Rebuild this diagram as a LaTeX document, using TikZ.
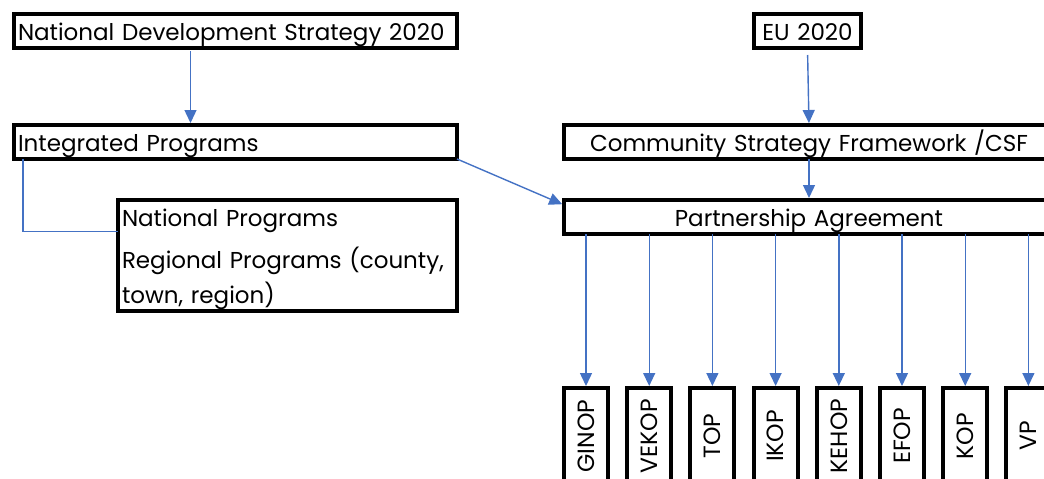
\documentclass[tikz,border=0pt]{standalone}
\usepackage{fontspec}
\setmainfont{Poppins}
\usepackage{tikz}
\usetikzlibrary{arrows.meta}
\definecolor{linkblue}{HTML}{4472C4}
\tikzstyle{box}=[draw,line width=4pt,outer sep=0pt,inner ysep=0pt,inner xsep=4pt,text height=26pt,text depth=8pt,anchor=north west,font=\fontsize{23}{35}\selectfont]
\tikzstyle{opbox}=[draw,line width=4pt,outer sep=0pt,inner sep=0pt,minimum width=44pt,minimum height=96pt,font=\fontsize{23.5}{35}\selectfont]
\tikzstyle{link}=[draw=linkblue,line width=1.4pt,-{Triangle[length=13pt,width=12pt]},shorten >=2pt]

\begin{document}
\begin{tikzpicture}[x=1pt,y=-1pt]
\useasboundingbox (0,0) rectangle (1044,479);
  \node[box,text width=435pt,align=left] (nds) at (14,14) {National Development Strategy 2020};
  \node[box,text width=435pt,align=left] (ip) at (14,125) {Integrated Programs};
  \node[box,text width=331pt,align=left,text depth=85pt] (nr) at (118,200)
     {National Programs\\[7pt] Regional Programs (county,\\ town, region)};
  \node[box,text width=99pt,align=center] (eu) at (754,14) {EU 2020};
  \node[box,text width=482pt,align=center] (csf) at (564,125) {Community Strategy Framework /CSF};
  \node[box,text width=482pt,align=center] (pa) at (564,200) {Partnership Agreement};
\foreach \name [count=\i from 0] in {GINOP,VEKOP,TOP,IKOP,KEHOP,EFOP,KOP,VP}{
  \node[opbox] (op\i) at ({586+63.2*\i},436) {\rotatebox{90}{\name}};
  \draw[link] (op\i.north |- pa.south) -- (op\i.north);
}
  \draw[link,shorten <=3pt] ([xshift=-45pt]nds.south) -- ([xshift=-45pt]ip.north);
  \draw[link] (ip.south east) -- ([yshift=12pt]pa.west);
  \draw[linkblue,line width=1.4pt] ([xshift=9pt]ip.south west) |- ([yshift=24pt]nr.west);
  \draw[link,shorten <=7pt] (eu.south) -- (csf.north);
  \draw[link] (csf.south) -- (pa.north);
\end{tikzpicture}
\end{document}
